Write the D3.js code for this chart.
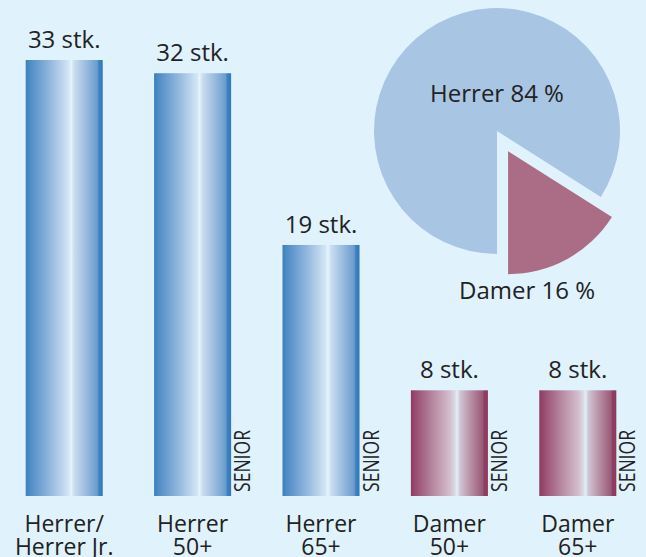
<!DOCTYPE html>
<html>
<head>
<meta charset="utf-8">
<script src="https://cdn.jsdelivr.net/npm/d3@7"></script>
<style>
  html, body { margin: 0; padding: 0; background: #e0f2fc; }
  svg { display: block; }
  text { font-family: "Open Sans", "Noto Sans", sans-serif; fill: #222; }
</style>
</head>
<body>
<svg id="chart" width="646" height="557"></svg>
<script>
const categories = ["Herrer/ Herrer Jr.", "Herrer 50+", "Herrer 65+", "Damer 50+", "Damer 65+"];
const labelLines = [["Herrer/", "Herrer Jr."], ["Herrer", "50+"], ["Herrer", "65+"], ["Damer", "50+"], ["Damer", "65+"]];
const counts = [33, 32, 19, 8, 8];
const groups = ["herrer", "herrer", "herrer", "damer", "damer"];
const senior = [false, true, true, true, true];

const pieLabels = ["Herrer", "Damer"];
const pieValues = [84, 16];

const svg = d3.select("#chart");

const x = d3.scaleBand().domain(categories).range([0, 642]).paddingInner(0.4).paddingOuter(0.2);
const y = d3.scaleLinear().domain([0, 33]).range([496, 60]);

// gradients
const defs = svg.append("defs");
const gradStops = {
  herrer: [
    [0, "#3a80bf"], [0.06, "#4f8dc6"], [0.3, "#8fb4dc"], [0.5, "#c3daef"],
    [0.56, "#d3e6f5"], [0.59, "#e6f4fc"], [0.63, "#c9ddf0"], [0.8, "#95b8dd"],
    [0.93, "#6a9ccf"], [0.95, "#3f82c0"], [1, "#2f78b8"]
  ],
  damer: [
    [0, "#8c3a5f"], [0.06, "#984c6f"], [0.3, "#b88ca4"], [0.5, "#d2bccb"],
    [0.56, "#d9d3de"], [0.6, "#e0eff7"], [0.64, "#d0c4d2"], [0.8, "#b4879f"],
    [0.93, "#9a5a78"], [0.95, "#8e3e62"], [1, "#8a3a5e"]
  ]
};
Object.entries(gradStops).forEach(([key, stops]) => {
  const lg = defs.append("linearGradient").attr("id", "grad-" + key)
    .attr("x1", "0%").attr("x2", "100%").attr("y1", "0%").attr("y2", "0%");
  lg.selectAll("stop").data(stops).join("stop")
    .attr("offset", d => d[0]).attr("stop-color", d => d[1]);
});

const data = categories.map((c, i) => ({
  cat: c, value: counts[i], group: groups[i], lines: labelLines[i], senior: senior[i]
}));

// bars
svg.append("g").selectAll("rect").data(data).join("rect")
  .attr("x", d => x(d.cat))
  .attr("y", d => y(d.value))
  .attr("width", x.bandwidth())
  .attr("height", d => y(0) - y(d.value))
  .attr("fill", d => `url(#grad-${d.group})`);

// value labels
svg.append("g").selectAll("text").data(data).join("text")
  .attr("x", d => x(d.cat) + x.bandwidth() / 2)
  .attr("y", d => y(d.value) - 12)
  .attr("text-anchor", "middle")
  .attr("font-size", 24)
  .text(d => `${d.value} stk.`);

// category labels
const catG = svg.append("g").selectAll("text").data(data).join("text")
  .attr("text-anchor", "middle")
  .attr("font-size", 23);
catG.selectAll("tspan").data(d => d.lines.map((l, j) => ({ l, j, d }))).join("tspan")
  .attr("x", t => x(t.d.cat) + x.bandwidth() / 2)
  .attr("y", t => 532 + t.j * 23)
  .text(t => t.l);

// SENIOR tags
svg.append("g").selectAll("text").data(data.filter(d => d.senior)).join("text")
  .attr("transform", d => `translate(${x(d.cat) + x.bandwidth() + 19},${y(0) - 4}) rotate(-90)`)
  .attr("font-size", 21)
  .attr("textLength", 62)
  .attr("lengthAdjust", "spacingAndGlyphs")
  .text("SENIOR");

// pie
const cx = 497, cy = 131, r = 123;
const pie = d3.pie().sort(null).startAngle(Math.PI).endAngle(3 * Math.PI);
const arcs = pie(pieValues);
const arc = d3.arc().innerRadius(0).outerRadius(r);
const pieColors = ["#a8c5e3", "#ab6d86"];
const explode = [0, 23];

const pg = svg.append("g").attr("transform", `translate(${cx},${cy})`);
pg.selectAll("path").data(arcs).join("path")
  .attr("d", arc)
  .attr("fill", (d, i) => pieColors[i])
  .attr("transform", (d, i) => {
    const a = (d.startAngle + d.endAngle) / 2;
    return `translate(${Math.sin(a) * explode[i]},${-Math.cos(a) * explode[i]})`;
  });

const pieLabelPos = [[0, -29], [30, 168]];
pg.selectAll("text").data(arcs).join("text")
  .attr("x", (d, i) => pieLabelPos[i][0])
  .attr("y", (d, i) => pieLabelPos[i][1])
  .attr("text-anchor", "middle")
  .attr("font-size", 24)
  .text((d, i) => `${pieLabels[i]} ${pieValues[i]} %`);
</script>
</body>
</html>
